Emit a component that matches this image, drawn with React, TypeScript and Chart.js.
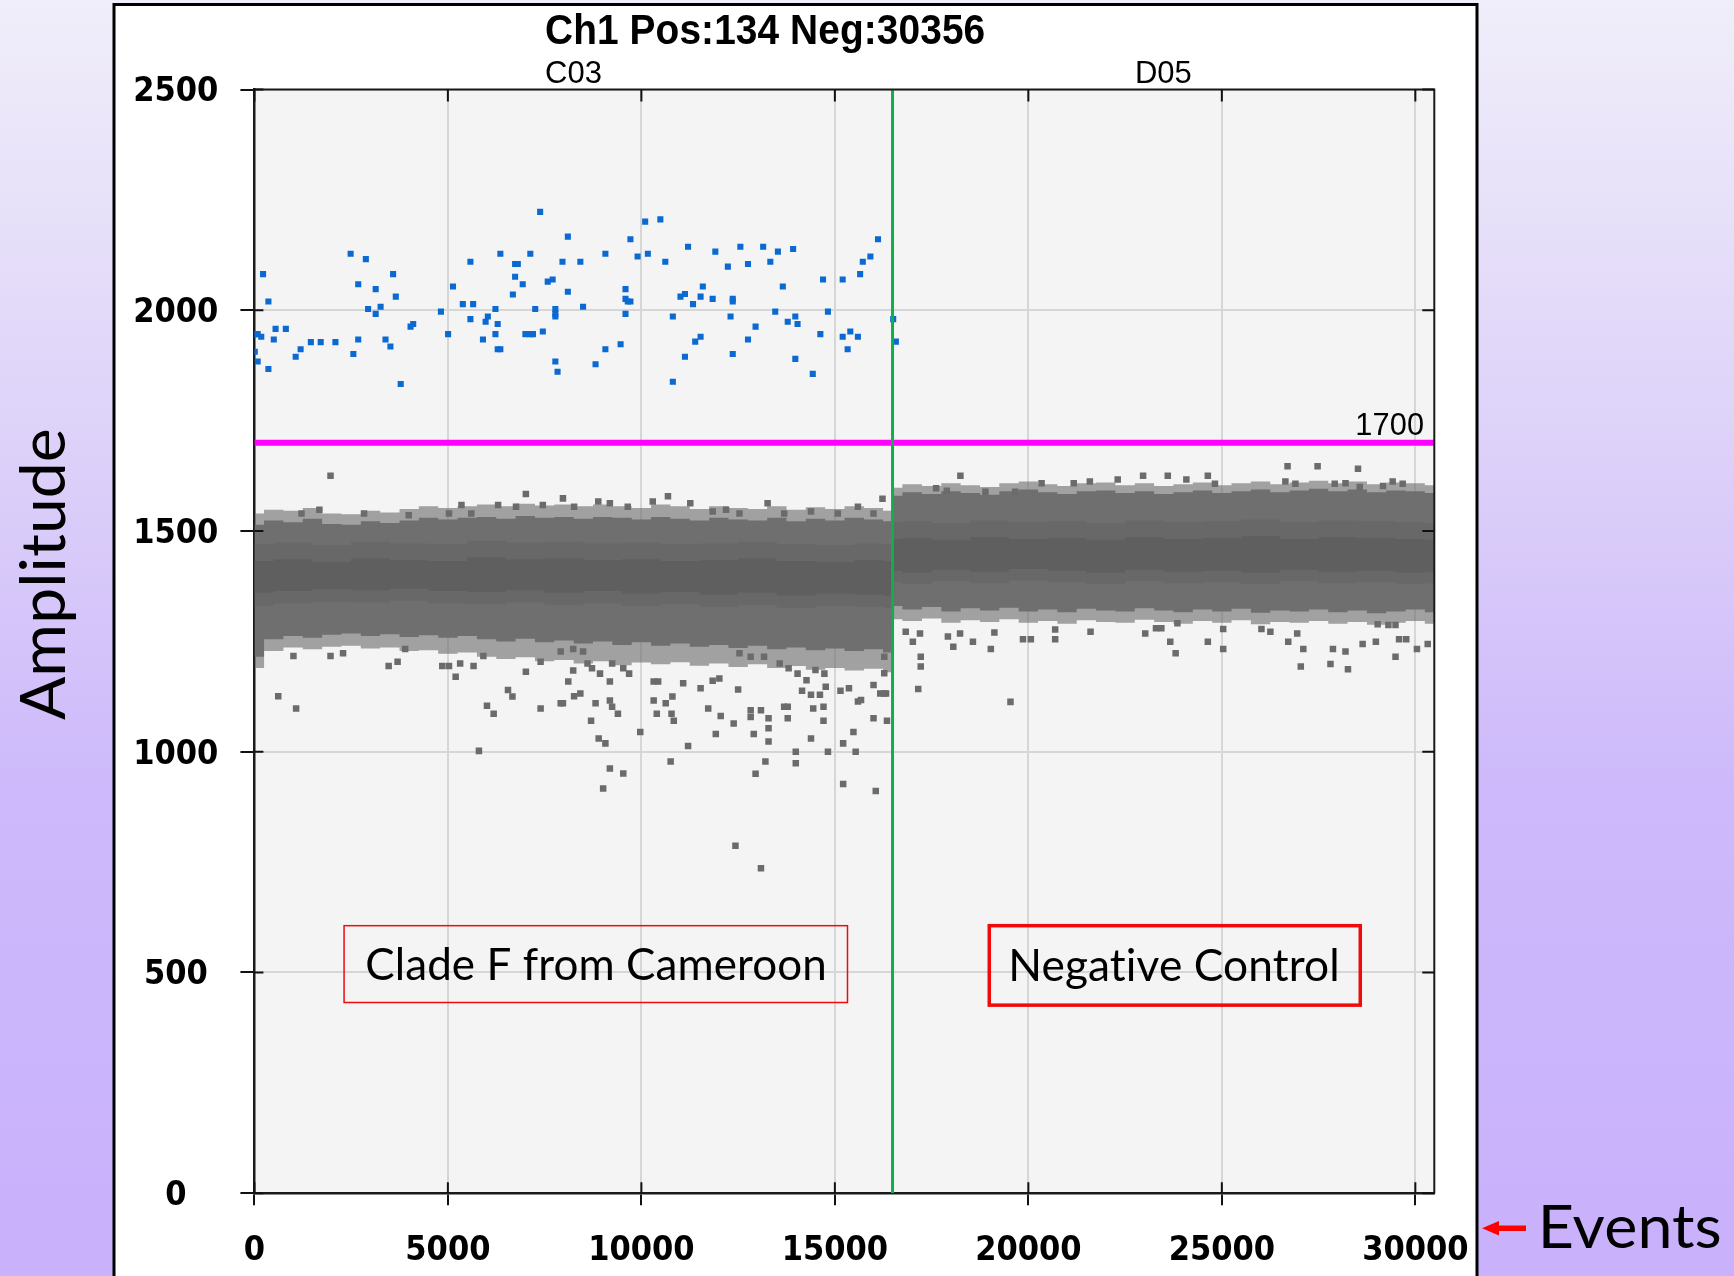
import { useEffect, useRef } from 'react';
import { Chart, registerables } from 'chart.js';

Chart.register(...registerables);

// ---- run summary ----
const TITLE = 'Ch1 Pos:134 Neg:30356';
const TOTAL_EVENTS = 30490;
const WELL_SPLIT = 16490;
const WELL_LABELS = ['C03', 'D05'];
const THRESHOLD = 1700;
const Y_MAX = 2500;
const X_TICKS = [0, 5000, 10000, 15000, 20000, 25000, 30000];
const Y_TICKS = [0, 500, 1000, 1500, 2000, 2500];

// ---- positive droplets (channel 1, above threshold) ----
const posEvents = [
  224, 362, 60, 85, 177, 501, 547, 812, 10, 85,
  362, 1067, 1194, 1459, 1713, 2094, 2487, 2880, 2683, 3134,
  2938, 3134, 3261, 2683, 2557, 3388, 3515, 3584, 3654, 3781,
  4035, 4104, 4820, 5132, 5005, 5386, 5582, 5652, 5582, 5906,
  5975, 6033, 6229, 6287, 6229, 6287, 6356, 6356, 6679, 6737,
  6737, 6807, 6934, 7130, 7257, 7003, 7130, 7199, 7453, 7384,
  7580, 7707, 7777, 7777, 7777, 7777, 7834, 7961, 8100, 8100,
  8423, 8493, 8816, 9070, 9070, 9463, 9590, 9590, 9648, 9717,
  9590, 9717, 9902, 10098, 10167, 10490, 10618, 10813, 10813, 11010,
  11126, 11126, 11206, 11334, 11391, 11530, 11530, 11588, 11842, 11911,
  12235, 12304, 12361, 12361, 12361, 12558, 12755, 12755, 12951, 13147,
  13332, 13459, 13528, 13655, 13782, 13921, 13978, 14036, 13978, 14429,
  14625, 14694, 14821, 15202, 15202, 15330, 15399, 15595, 15653, 15722,
  15918, 16115, 16507, 16577,
];
const posAmps = [
  2082, 2020, 1946, 1946, 1940, 1934, 1958, 1958, 1906, 1884,
  1867, 1895, 1912, 1928, 1928, 1928, 2128, 2116, 2059, 2048,
  2003, 1992, 2008, 1934, 1901, 1934, 1918, 2082, 2031, 1833,
  1963, 1969, 1997, 2054, 1946, 2014, 2110, 2014, 1980, 1934,
  1974, 1986, 2003, 1969, 1946, 1912, 1912, 2128, 2036, 2076,
  2105, 2105, 2059, 2128, 2003, 1946, 1946, 1946, 1952, 2223,
  2065, 2070, 2003, 1992, 1986, 1884, 1861, 2110, 2167, 2042,
  2110, 2008, 1878, 2128, 1912, 1923, 2048, 2026, 2020, 2020,
  1992, 2161, 2122, 2201, 2128, 2206, 2110, 1986, 1838, 2031,
  2037, 1895, 2144, 2014, 1929, 1940, 2031, 2054, 2026, 2133,
  2099, 1986, 2026, 2020, 1901, 2144, 2105, 1934, 1963, 2144,
  2110, 1997, 2133, 2054, 1974, 2139, 1986, 1969, 1890, 1856,
  1946, 2070, 1997, 2070, 1940, 1912, 1952, 1940, 2082, 2110,
  2122, 2161, 1980, 1929,
];

// ---- negative droplet cloud, well C03: envelope per event bin ----
const c03Bins = [
  0, 500, 1000, 1500, 2000, 2500, 3000, 3500, 4000, 4500, 5000, 5500, 6000, 6500, 7000, 7500, 8000,
  8500, 9000, 9500, 10000, 10500, 11000, 11500, 12000, 12500, 13000, 13500, 14000, 14500, 15000, 15500, 16000, 16490,
];
const c03FringeHi = [
  1540, 1548, 1546, 1552, 1540, 1538, 1546, 1542, 1550, 1556, 1552, 1556, 1560, 1556, 1562, 1558, 1560,
  1556, 1560, 1556, 1552, 1560, 1556, 1550, 1556, 1552, 1550, 1556, 1548, 1554, 1550, 1556, 1552, 1546,
];
const c03FringeLo = [
  1190, 1228, 1236, 1232, 1238, 1240, 1234, 1236, 1228, 1230, 1222, 1225, 1215, 1210, 1214, 1205, 1208,
  1200, 1205, 1196, 1202, 1198, 1203, 1195, 1200, 1192, 1198, 1190, 1194, 1186, 1190, 1184, 1188, 1180,
];
const c03OuterHi = [
  1514, 1524, 1520, 1528, 1516, 1514, 1522, 1518, 1524, 1530, 1526, 1530, 1532, 1528, 1534, 1530, 1532,
  1528, 1532, 1530, 1526, 1532, 1528, 1524, 1530, 1526, 1524, 1530, 1522, 1528, 1524, 1530, 1526, 1522,
];
const c03OuterLo = [
  1215, 1255, 1262, 1258, 1265, 1268, 1262, 1266, 1260, 1264, 1258, 1262, 1255, 1250, 1256, 1248, 1252,
  1245, 1250, 1242, 1248, 1240, 1245, 1238, 1242, 1235, 1240, 1232, 1236, 1230, 1234, 1228, 1232, 1225,
];
const c03CoreBins = [0, 1000, 2000, 3000, 4000, 5000, 6000, 7000, 8000, 9000, 10000, 11000, 12000, 13000, 14000, 15000, 16000, 16490];
const c03CoreHi = [1470, 1474, 1468, 1476, 1472, 1470, 1478, 1474, 1476, 1472, 1474, 1470, 1472, 1476, 1470, 1468, 1472, 1470];
const c03CoreLo = [1330, 1336, 1340, 1338, 1342, 1336, 1334, 1338, 1332, 1336, 1330, 1334, 1328, 1332, 1326, 1330, 1328, 1326];
const c03InnerHi = [1432, 1436, 1430, 1438, 1434, 1432, 1440, 1436, 1438, 1434, 1436, 1432, 1434, 1438, 1432, 1430, 1434, 1432];
const c03InnerLo = [1360, 1364, 1368, 1366, 1370, 1364, 1362, 1366, 1360, 1364, 1358, 1362, 1356, 1360, 1354, 1358, 1356, 1354];

// ---- negative droplet cloud, well D05 ----
const d05Bins = [
  16490, 17000, 17500, 18000, 18500, 19000, 19500, 20000, 20500, 21000, 21500, 22000, 22500, 23000, 23500,
  24000, 24500, 25000, 25500, 26000, 26500, 27000, 27500, 28000, 28500, 29000, 29500, 30000, 30490,
];
const d05FringeHi = [
  1598, 1606, 1602, 1608, 1604, 1600, 1608, 1612, 1606, 1602, 1608, 1610, 1604, 1608, 1602,
  1606, 1610, 1604, 1608, 1612, 1606, 1610, 1614, 1608, 1612, 1606, 1610, 1608, 1604,
];
const d05FringeLo = [
  1300, 1296, 1302, 1292, 1298, 1294, 1300, 1292, 1296, 1290, 1298, 1294, 1292, 1299, 1294,
  1290, 1296, 1292, 1298, 1289, 1294, 1292, 1296, 1290, 1294, 1288, 1292, 1296, 1290,
];
const d05OuterHi = [
  1580, 1588, 1584, 1590, 1586, 1582, 1590, 1594, 1588, 1584, 1590, 1592, 1586, 1590, 1584,
  1588, 1592, 1586, 1590, 1594, 1588, 1592, 1596, 1590, 1594, 1588, 1592, 1590, 1586,
];
const d05OuterLo = [
  1330, 1322, 1328, 1318, 1325, 1320, 1326, 1318, 1322, 1316, 1324, 1320, 1318, 1325, 1320,
  1316, 1322, 1318, 1324, 1315, 1320, 1318, 1322, 1316, 1320, 1314, 1318, 1322, 1316,
];
const d05CoreBins = [16490, 17000, 18000, 19000, 20000, 21000, 22000, 23000, 24000, 25000, 26000, 27000, 28000, 29000, 30000, 30490];
const d05CoreHi = [1520, 1522, 1518, 1524, 1520, 1522, 1518, 1524, 1520, 1522, 1526, 1520, 1524, 1522, 1520, 1518];
const d05CoreLo = [1384, 1380, 1386, 1382, 1388, 1384, 1380, 1386, 1382, 1384, 1380, 1386, 1382, 1384, 1380, 1382];
const d05InnerHi = [1482, 1484, 1480, 1486, 1482, 1484, 1480, 1486, 1482, 1484, 1488, 1482, 1486, 1484, 1482, 1480];
const d05InnerLo = [1410, 1406, 1412, 1408, 1414, 1410, 1406, 1412, 1408, 1410, 1406, 1412, 1408, 1410, 1406, 1408];

// ---- scattered negative droplets outside the dense band ----
const c03StrayEvents = [
  1967, 7015, 7973, 10687, 16230, 1217, 1679, 2834, 3989, 5028, 5351, 5605, 6298, 6760, 7453, 8262, 8886, 9186, 9648, 10294,
  11264, 11842, 12189, 12535, 13262, 13690, 14383, 15076, 15596, 15999,
  1009, 1967, 2291, 616, 1078, 3469, 3700, 3896, 4855, 5028, 5201, 5317, 5663, 5917, 5802, 6010, 6183, 6553, 6668, 7015,
  7396, 7396, 7915, 7973, 8111, 8238, 8261, 8423, 8700, 8816, 8897, 9070, 9186, 9244, 9394, 9186, 9532, 9012, 9971, 10318,
  10433, 10318, 10629, 10802, 10398, 10779, 10837, 10756, 11080, 11207, 11530, 11727, 11842, 12015, 12050, 11923, 12385, 12500, 12824, 12824,
  12904, 13090, 13286, 13286, 13286, 12951, 13205, 12431, 13090, 13690, 13782, 13782, 13990, 13990, 14383, 14440, 14706, 14706, 14821, 15214,
  15214, 15480, 15538, 15999, 16057, 16346,
  8493, 8608, 8724, 8931, 9244, 9186, 9532, 9683, 12535, 12824, 13170, 13574, 13805, 14036, 14267, 14498, 14729, 14152, 14383, 14614,
  14764, 15145, 15364, 15596, 15676, 15999, 16173, 16323, 7915, 8238, 16276, 16276, 16276,
];
const c03StrayAmps = [
  1625, 1584, 1574, 1579, 1573, 1540, 1548, 1540, 1536, 1540, 1559, 1540, 1559, 1555, 1559, 1555, 1567, 1563, 1555, 1567,
  1563, 1544, 1548, 1540, 1563, 1540, 1544, 1540, 1555, 1540,
  1217, 1217, 1223, 1126, 1098, 1194, 1204, 1233, 1194, 1194, 1170, 1200, 1194, 1217, 1002, 1104, 1086, 1140, 1125, 1181,
  1204, 1098, 1110, 1110, 1159, 1184, 1126, 1132, 1070, 1110, 1030, 1019, 1116, 1102, 1086, 962, 951, 917, 1045, 1159,
  1159, 1116, 1110, 1125, 1086, 1086, 1070, 978, 1155, 1013, 1144, 1098, 1161, 1166, 1081, 1040, 1064, 1141, 1094, 1079,
  1040, 1094, 1076, 1053, 1023, 950, 978, 787, 736, 1102, 1102, 1076, 1000, 974, 1030, 1098, 1102, 1070, 1000, 927,
  1019, 1045, 1000, 1076, 911, 1070,
  1227, 1200, 1189, 1177, 1200, 1159, 1189, 1177, 1223, 1215, 1215, 1200, 1189, 1177, 1162, 1185, 1177, 1138, 1129, 1129,
  1147, 1138, 1144, 1114, 1117, 1151, 1132, 1132, 1227, 1233, 1215, 1178, 1132,
];
const d05StrayEvents = [
  18244, 22309, 22965, 23603, 24638, 26698, 27474, 28518, 26642, 26901, 27917, 28195, 28564, 29165, 29414, 29673,
  17616, 17893, 18891, 19658, 20342, 21173, 21589, 24083, 24822,
  16831, 17015, 17200, 17219, 17219, 17154, 17921, 18060, 18235, 18568, 19030, 19122, 19538, 19861, 20064, 20693,
  20693, 21607, 23020, 23298, 23437, 23667, 23806, 23852, 24638, 25035, 25035, 26023, 26254, 26716, 26947, 27105,
  27040, 27807, 27871, 28195, 28259, 28638, 28980, 29026, 29488, 29580, 29765, 30042, 30320, 29304, 29488,
];
const d05StrayAmps = [
  1625, 1617, 1625, 1625, 1625, 1647, 1647, 1641, 1612, 1607, 1607, 1608, 1600, 1602, 1612, 1607,
  1597, 1591, 1589, 1589, 1608, 1608, 1612, 1617, 1607,
  1272, 1249, 1268, 1215, 1193, 1142, 1261, 1238, 1268, 1249, 1233, 1270, 1113, 1255, 1255, 1277,
  1255, 1272, 1268, 1280, 1280, 1249, 1223, 1291, 1249, 1233, 1278, 1278, 1272, 1249, 1268, 1233,
  1193, 1199, 1233, 1227, 1187, 1244, 1249, 1289, 1215, 1255, 1255, 1233, 1244, 1287, 1287,
];

// ---- text boxes placed on the plot (data coordinates) ----
const NOTES = [
  { text: 'Clade F from Cameroon', from: 2317, to: 15326, top: 606, bottom: 432, textWidth: 457, line: 1.5 },
  { text: 'Negative Control', from: 18990, to: 28577, top: 606, bottom: 426, textWidth: 325, line: 3.5 },
];

const TICK_FONT = "'DejaVu Sans Condensed', 'DejaVu Sans', sans-serif";
const WELL_FONT = "'Liberation Sans Narrow', 'Liberation Sans', sans-serif";

const pts = (xs: number[], ys: number[]) => xs.map((x, i) => ({ x, y: ys[i] }));

const band = (bins: number[], lo: number[], hi: number[], color: string, stepped: any) => [
  {
    data: pts(bins, lo),
    borderColor: 'rgba(0,0,0,0)',
    borderWidth: 0,
    pointRadius: 0,
    fill: false,
    stepped,
  },
  {
    data: pts(bins, hi),
    borderColor: 'rgba(0,0,0,0)',
    borderWidth: 0,
    pointRadius: 0,
    fill: '-1',
    backgroundColor: color,
    stepped,
  },
];

const dots = (xs: number[], ys: number[], color: string, radius: number) => ({
  data: pts(xs, ys),
  showLine: false,
  pointStyle: 'rect',
  pointRadius: radius,
  pointHoverRadius: radius,
  pointBorderWidth: 0,
  pointBackgroundColor: color,
  borderColor: color,
});

// draws text so its ink spans x0..x1 with the given cap height, sitting on the baseline
function fitText(ctx: CanvasRenderingContext2D, text: string, family: string, weight: string,
  cap: number, x0: number, x1: number, baseline: number) {
  ctx.save();
  (ctx as any).letterSpacing = '0.1px';
  ctx.font = `${weight} 100px ${family}`;
  const capRatio = ctx.measureText('H').actualBoundingBoxAscent / 100 || 0.72;
  const size = cap / capRatio;
  ctx.font = `${weight} ${size}px ${family}`;
  ctx.textAlign = 'left';
  ctx.textBaseline = 'alphabetic';
  const m = ctx.measureText(text);
  const ink = m.actualBoundingBoxLeft + m.actualBoundingBoxRight;
  ctx.translate(x0, baseline);
  ctx.scale((x1 - x0) / ink, 1);
  ctx.fillText(text, m.actualBoundingBoxLeft, 0);
  ctx.restore();
}

const decor = {
  id: 'decor',
  beforeDraw(chart: any) {
    const { ctx, chartArea: a, width, height } = chart;
    ctx.save();
    const g = ctx.createLinearGradient(0, 0, 0, height);
    g.addColorStop(0, '#f0eefa');
    g.addColorStop(0.35, '#ddd1f9');
    g.addColorStop(0.62, '#cdb9fb');
    g.addColorStop(1, '#c9b1fb');
    ctx.fillStyle = g;
    ctx.fillRect(0, 0, width, height);
    ctx.fillStyle = '#ffffff';
    ctx.fillRect(114, 4, 1363, height);
    ctx.strokeStyle = '#000';
    ctx.lineWidth = 3;
    ctx.strokeRect(114, 4.5, 1363, height + 20);
    ctx.fillStyle = '#f4f4f4';
    ctx.fillRect(a.left, a.top, a.right - a.left, a.bottom - a.top);
    ctx.restore();
  },
  afterDatasetsDraw(chart: any) {
    const { ctx, chartArea: a, scales } = chart;
    const xs = scales.x;
    const ys = scales.y;
    ctx.save();
    // frame on the top and right sides
    ctx.strokeStyle = '#1a1a1a';
    ctx.lineWidth = 2;
    ctx.beginPath();
    ctx.moveTo(a.left, a.top);
    ctx.lineTo(a.right, a.top);
    ctx.lineTo(a.right, a.bottom);
    ctx.stroke();
    // inward tick marks
    ctx.lineWidth = 2;
    ctx.strokeStyle = '#111';
    ctx.beginPath();
    xs.ticks.forEach((t: any) => {
      const px = xs.getPixelForValue(t.value);
      ctx.moveTo(px, a.top);
      ctx.lineTo(px, a.top + 12);
      ctx.moveTo(px, a.bottom);
      ctx.lineTo(px, a.bottom - 11);
    });
    ys.ticks.forEach((t: any) => {
      const py = ys.getPixelForValue(t.value);
      ctx.moveTo(a.right, py);
      ctx.lineTo(a.right - 12, py);
      ctx.moveTo(a.left, py);
      ctx.lineTo(a.left + 9, py);
    });
    ctx.stroke();

    // threshold value
    ctx.fillStyle = '#000';
    fitText(ctx, String(THRESHOLD), "'Liberation Sans', sans-serif", 'normal', 22,
      a.right - 77, a.right - 11, ys.getPixelForValue(THRESHOLD) - 8);

    // annotation boxes
    NOTES.forEach((n) => {
      const l = xs.getPixelForValue(n.from);
      const r = xs.getPixelForValue(n.to);
      const t = ys.getPixelForValue(n.top);
      const b = ys.getPixelForValue(n.bottom);
      ctx.strokeStyle = '#f00a0a';
      ctx.lineWidth = n.line;
      ctx.strokeRect(l, t, r - l, b - t);
      ctx.fillStyle = '#000';
      const cx = (l + r) / 2;
      const cap = 32;
      const baseline = (t + b) / 2 + cap / 2;
      fitText(ctx, n.text, "Lato, 'Open Sans', sans-serif", 'normal', cap,
        cx - n.textWidth / 2, cx + n.textWidth / 2, baseline);
    });
    ctx.restore();
  },
  afterDraw(chart: any) {
    const { ctx } = chart;
    ctx.save();
    ctx.fillStyle = '#000';
    fitText(ctx, TITLE, "'Liberation Sans', Arial, sans-serif", 'bold', 29.3, 546, 984, 43.5);

    ctx.save();
    ctx.translate(65, 720);
    ctx.rotate(-Math.PI / 2);
    fitText(ctx, 'Amplitude', "Lato, 'Open Sans', sans-serif", 'normal', 45, 0, 290, 0);
    ctx.restore();

    fitText(ctx, 'Events', "Lato, 'Open Sans', sans-serif", 'normal', 43.3, 1543, 1720, 1248.3);

    // red arrow pointing at the event axis
    ctx.fillStyle = '#ff0000';
    ctx.fillRect(1497, 1225.5, 29, 5.5);
    ctx.beginPath();
    ctx.moveTo(1482, 1228.2);
    ctx.lineTo(1499, 1221);
    ctx.lineTo(1499, 1235.5);
    ctx.closePath();
    ctx.fill();
    ctx.restore();
  },
};

export default function App() {
  const canvasRef = useRef<HTMLCanvasElement | null>(null);

  useEffect(() => {
    const canvas = canvasRef.current;
    if (!canvas) return;

    const fringe = 'rgba(110,110,110,0.62)';
    const datasets: any[] = [
      ...band(c03Bins, c03FringeLo, c03FringeHi, fringe, 'middle'),
      ...band(c03Bins, c03OuterLo, c03OuterHi, '#6f6f6f', 'middle'),
      ...band(c03CoreBins, c03CoreLo, c03CoreHi, '#686868', 'middle'),
      ...band(c03CoreBins, c03InnerLo, c03InnerHi, '#5f5f5f', 'middle'),
      ...band(d05Bins, d05FringeLo, d05FringeHi, fringe, 'middle'),
      ...band(d05Bins, d05OuterLo, d05OuterHi, '#6f6f6f', 'middle'),
      ...band(d05CoreBins, d05CoreLo, d05CoreHi, '#686868', 'middle'),
      ...band(d05CoreBins, d05InnerLo, d05InnerHi, '#5f5f5f', 'middle'),
      dots(c03StrayEvents, c03StrayAmps, '#6b6b6b', 4.6),
      dots(d05StrayEvents, d05StrayAmps, '#6b6b6b', 4.6),
      dots(posEvents, posAmps, '#0a6ad2', 4.3),
      {
        data: pts([0, TOTAL_EVENTS], [THRESHOLD, THRESHOLD]),
        borderColor: '#ff00ff',
        borderWidth: 6,
        pointRadius: 0,
        fill: false,
      },
      {
        data: pts([WELL_SPLIT, WELL_SPLIT], [0, Y_MAX]),
        borderColor: '#0db04b',
        borderWidth: 3,
        pointRadius: 0,
        fill: false,
      },
    ];
    datasets.forEach((d, i) => { d.order = -i; });

    const chart = new Chart(canvas, {
      type: 'line',
      data: { datasets },
      options: {
        animation: false,
        responsive: false,
        devicePixelRatio: 1,
        events: [],
        layout: { padding: { left: 0, top: 0, right: 299.7, bottom: 0 } },
        plugins: {
          legend: { display: false },
          tooltip: { enabled: false },
          title: { display: false },
        },
        scales: {
          x: {
            type: 'linear',
            position: 'bottom',
            min: 0,
            max: TOTAL_EVENTS,
            afterBuildTicks: (s: any) => { s.ticks = X_TICKS.map((value) => ({ value })); },
            ticks: {
              autoSkip: false,
              maxRotation: 0,
              color: '#000',
              padding: 26,
              font: { family: TICK_FONT, size: 34, weight: 'bold' },
              callback: (v: any) => String(v),
            },
            grid: { color: '#d6d6d6', lineWidth: 2, tickColor: '#111', tickLength: 12, tickWidth: 2 },
            border: { color: '#1a1a1a', width: 2.5 },
            afterFit: (s: any) => { s.height = 82.8; },
          },
          xTop: {
            type: 'linear',
            position: 'top',
            min: 0,
            max: TOTAL_EVENTS,
            afterBuildTicks: (s: any) => {
              s.ticks = [
                { value: WELL_SPLIT / 2 },
                { value: (WELL_SPLIT + TOTAL_EVENTS) / 2 },
              ];
            },
            ticks: {
              autoSkip: false,
              maxRotation: 0,
              padding: -3,
              color: '#000',
              font: { family: WELL_FONT, size: 31 },
              callback: (_v: any, i: number) => WELL_LABELS[i],
            },
            grid: { display: false, drawTicks: false },
            border: { display: false },
            afterFit: (s: any) => { s.height = 89.6; },
          },
          y: {
            type: 'linear',
            position: 'left',
            min: 0,
            max: Y_MAX,
            afterBuildTicks: (s: any) => { s.ticks = Y_TICKS.map((value) => ({ value })); },
            ticks: {
              crossAlign: 'center',
              color: '#000',
              padding: 22,
              labelOffset: 3,
              font: { family: TICK_FONT, size: 34, weight: 'bold' },
              callback: (v: any) => String(v),
            },
            grid: { color: '#d6d6d6', lineWidth: 2, tickColor: '#111', tickLength: 14, tickWidth: 2 },
            border: { color: '#1a1a1a', width: 2.5 },
            afterFit: (s: any) => { s.width = 254.4; },
          },
        },
      } as any,
      plugins: [decor],
    });

    return () => chart.destroy();
  }, []);

  return (
    <div style={{ position: 'absolute', left: 0, top: 0, width: 1734, height: 1276 }}>
      <canvas ref={canvasRef} width={1734} height={1276} style={{ display: 'block', width: 1734, height: 1276 }} />
    </div>
  );
}
